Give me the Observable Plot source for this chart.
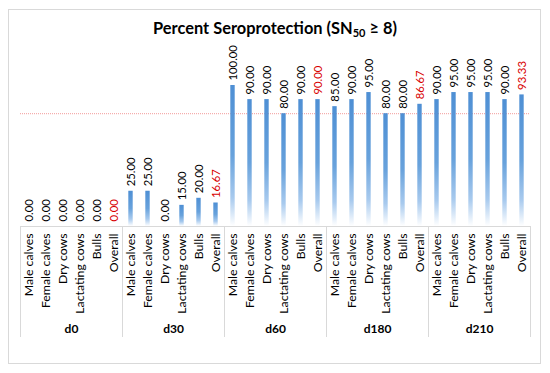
<!DOCTYPE html>
<html><head><meta charset="utf-8">
<script src="https://cdn.jsdelivr.net/npm/d3@7"></script>
<script src="https://cdn.jsdelivr.net/npm/@observablehq/plot@0.6"></script>
<style>
body{margin:0;background:#fff;}
#wrap{position:relative;width:550px;height:373px;overflow:hidden;font-family:Lato, sans-serif;}
#border{position:absolute;left:8px;top:9px;width:533px;height:355px;border:1px solid #d9d9d9;box-sizing:border-box}
#title{position:absolute;left:0;width:550px;top:18px;text-align:center;font-weight:bold;font-size:16.4px;line-height:19px;color:#000;}
#title sub{font-size:11px;vertical-align:-3px;line-height:0}
#chart{position:absolute;left:0;top:0}
</style></head>
<body><div id="wrap"><div id="border"></div><div id="chart"></div><div id="title">Percent Seroprotection (SN<sub>50</sub> ≥ 8)</div></div>
<script>
const groups = ["d0","d30","d60","d180","d210"];
const categories = ["Male calves","Female calves","Dry cows","Lactating cows","Bulls","Overall"];
const d0 = [0,0,0,0,0,0];
const d30 = [25,25,0,15,20,16.67];
const d60 = [100,90,90,80,90,90];
const d180 = [85,90,95,80,80,86.67];
const d210 = [90,95,95,95,90,93.33];
const threshold = [80];

const series = {d0, d30, d60, d180, d210};
const data = groups.flatMap(g => categories.map((c, i) => ({group: g, category: c, value: series[g][i]})));

const plot = Plot.plot({
  width: 550, height: 373,
  marginTop: 85, marginBottom: 147, marginLeft: 20, marginRight: 20,
  fx: {domain: groups, padding: 0, axis: null},
  x: {domain: categories, padding: 0, axis: null},
  y: {domain: [0, 100], axis: null},
  style: {fontFamily: "Lato, sans-serif", background: "transparent", overflow: "visible"},
  marks: [
    Plot.frame({anchor: "bottom", stroke: "#d9d9d9"}),
    Plot.frame({anchor: "left", stroke: "#d9d9d9", insetTop: 141, insetBottom: -110}),
    Plot.frame({anchor: "right", stroke: "#d9d9d9", insetTop: 141, insetBottom: -110}),
    Plot.ruleY(threshold, {stroke: "#f39a9a", strokeDasharray: "1,1", strokeWidth: 1}),
    Plot.barY(data, {fx: "group", x: "category", y: "value", fill: "url(#barGrad)", insetLeft: 6.3, insetRight: 6.3}),
    Plot.text(data, {fx: "group", x: "category", y: "value", text: d => d.value.toFixed(2), rotate: -90, textAnchor: "start", lineAnchor: "middle", dy: -5, fontSize: 11.3,
      fill: d => d.category === "Overall" ? "#d80000" : "#000"}),
    Plot.text(data, {fx: "group", x: "category", text: "category", frameAnchor: "bottom", rotate: -90, textAnchor: "end", lineAnchor: "middle", dy: 7, fontSize: 12.3, fill: "#000"}),
    Plot.text(groups, {fx: d => d, text: d => d, frameAnchor: "bottom", lineAnchor: "middle", dy: 103, fontSize: 12, fontWeight: "bold", fill: "#000"})
  ]
});

const ns = "http://www.w3.org/2000/svg";
const defs = document.createElementNS(ns, "defs");
defs.innerHTML = `<linearGradient id="barGrad" x1="0" y1="0" x2="0" y2="1">
  <stop offset="0" stop-color="#4e8fd4"/>
  <stop offset="0.5" stop-color="#68a2dc"/>
  <stop offset="0.8" stop-color="#a8caee"/>
  <stop offset="1" stop-color="#ffffff"/>
</linearGradient>`;
plot.insertBefore(defs, plot.firstChild);
document.getElementById("chart").appendChild(plot);
</script>
</body></html>
